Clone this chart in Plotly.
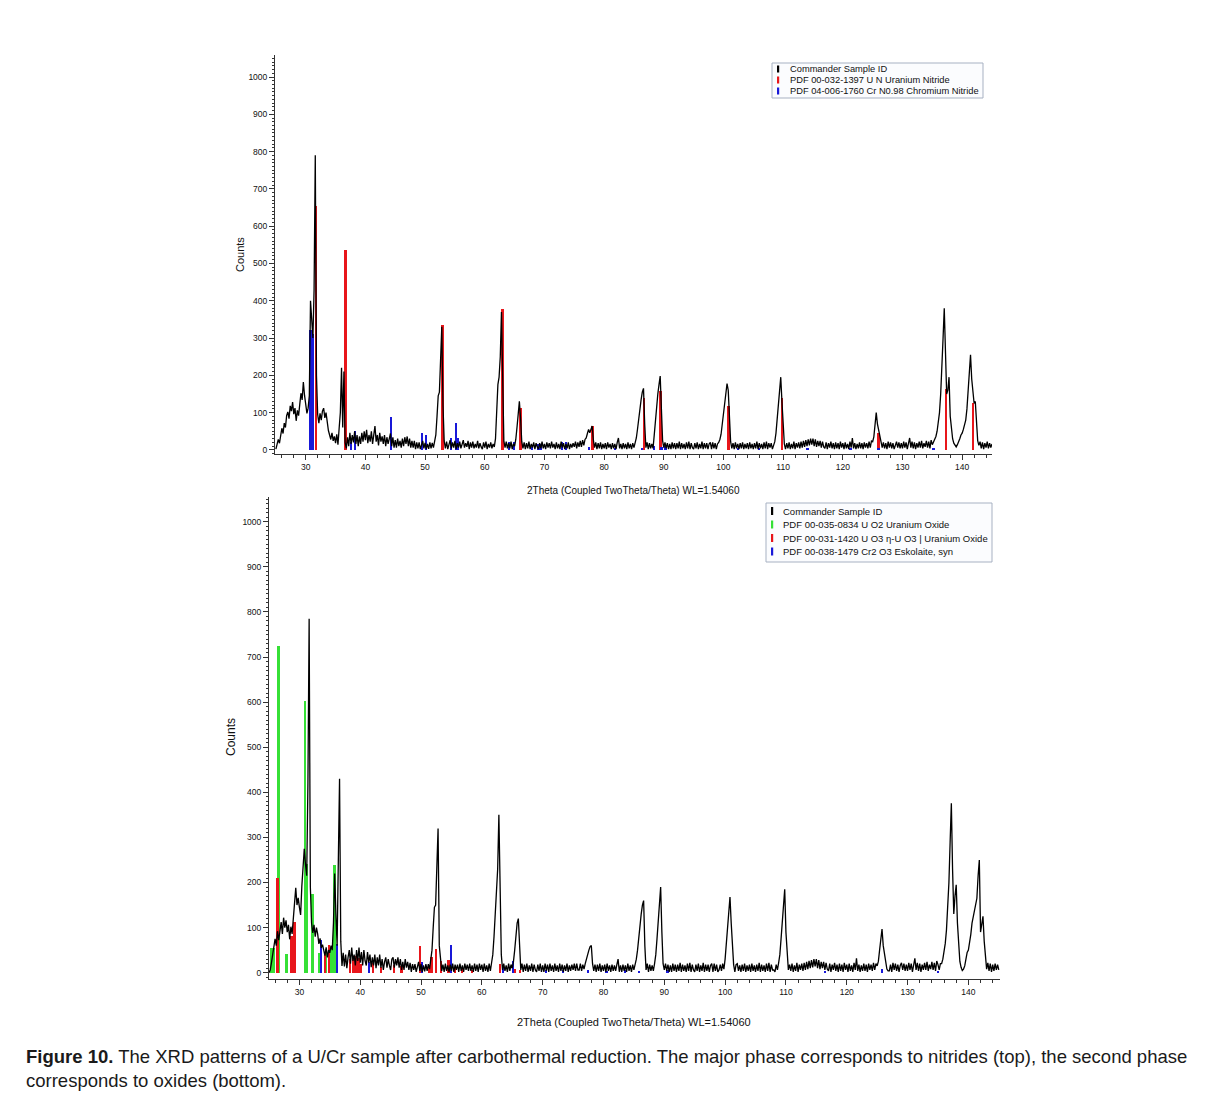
import numpy as np
import plotly.graph_objects as go

# page: the browser body adds an 8px margin, the figure is sized to fit inside it
PAGE_MARGIN = 8
FW, FH = 1227 - 2 * PAGE_MARGIN, 1102 - 2 * PAGE_MARGIN

# ---------------- data ----------------
SCAN_START = 25.0   # 2theta of first scan point (deg)
SCAN_STEP = 0.2     # scan step (deg)

# Top pattern (nitrides), counts per scan point, one row per degree (x.0 .2 .4 .6 .8)
top_counts = [
    2, 12, 28, 18, 42,        # 25
    58, 44, 72, 60, 92,       # 26
    102, 84, 118, 104, 128,   # 27
    96, 112, 78, 106, 92,     # 28
    122, 152, 134, 182, 146,  # 29
    118, 98, 112, 145, 400,   # 30
    330, 300, 430, 790, 200,  # 31
    95, 72, 98, 80, 104,      # 32
    112, 86, 100, 70, 52,     # 33
    40, 28, 46, 24, 36,       # 34
    18, 42, 14, 58, 100,      # 35
    220, 60, 210, 20, 4,      # 36
    34, 10, 46, 16, 40,       # 37
    20, 50, 16, 40, 10,       # 38
    36, 16, 46, 22, 50,       # 39
    26, 54, 18, 40, 22,       # 40
    50, 16, 44, 64, 22,       # 41
    40, 12, 46, 22, 36,       # 42
    16, 40, 10, 34, 16,       # 43
    30, 44, 10, 34, 6,        # 44
    26, 6, 30, 10, 24,        # 45
    6, 30, 10, 34, 16,        # 46
    36, 10, 30, 6, 24,        # 47
    6, 24, 2, 20, 4,          # 48
    20, 2, 16, 24, 4,         # 49
    19, 2, 16, 3, 20,         # 50
    4, 19, 6, 24, 40,         # 51
    90, 145, 155, 250, 330,   # 52
    120, 24, 4, 22, 2,        # 53
    16, 26, 4, 20, 6,         # 54
    24, 2, 18, 6, 22,         # 55
    4, 16, 26, 6, 18,         # 56
    8, 24, 2, 20, 6,          # 57
    22, 4, 16, 6, 24,         # 58
    4, 18, 8, 2, 20,          # 59
    6, 22, 2, 16, 6,          # 60
    20, 4, 16, 8, 30,         # 61
    90, 175, 195, 250, 370,   # 62
    130, 24, 6, 22, 4,        # 63
    18, 4, 22, 2, 16,         # 64
    10, 28, 60, 95, 130,      # 65
    85, 22, 4, 20, 2,         # 66
    18, 4, 22, 2, 16,         # 67
    6, 20, 2, 18, 8,          # 68
    2, 18, 4, 22, 4,          # 69
    16, 2, 20, 6, 18,         # 70
    4, 22, 6, 16, 2,          # 71
    20, 4, 16, 2, 22,         # 72
    6, 18, 2, 16, 4,          # 73
    20, 2, 16, 6, 18,         # 74
    8, 22, 4, 20, 8,          # 75
    24, 8, 26, 12, 28,        # 76
    32, 44, 55, 46, 56,       # 77
    64, 26, 6, 20, 2,         # 78
    18, 4, 20, 2, 16,         # 79
    4, 18, 2, 20, 6,          # 80
    16, 2, 18, 4, 16,         # 81
    2, 20, 32, 4, 16,         # 82
    2, 18, 4, 16, 2,          # 83
    20, 4, 16, 2, 18,         # 84
    6, 20, 32, 56, 86,        # 85
    115, 135, 155, 165, 70,   # 86
    6, 20, 2, 18, 4,          # 87
    16, 4, 40, 80, 120,       # 88
    150, 175, 198, 110, 25,   # 89
    6, 20, 4, 18, 2,          # 90
    16, 2, 20, 4, 18,         # 91
    2, 18, 4, 22, 2,          # 92
    18, 4, 16, 2, 20,         # 93
    4, 22, 2, 18, 6,          # 94
    2, 18, 4, 20, 2,          # 95
    16, 4, 22, 2, 18,         # 96
    4, 18, 2, 16, 20,         # 97
    2, 20, 4, 18, 2,          # 98
    16, 20, 28, 42, 70,       # 99
    100, 130, 150, 178, 160,  # 100
    80, 22, 4, 18, 2,         # 101
    20, 4, 16, 2, 18,         # 102
    4, 20, 2, 16, 4,          # 103
    18, 2, 20, 4, 16,         # 104
    2, 18, 4, 22, 2,          # 105
    18, 4, 16, 2, 20,         # 106
    4, 22, 2, 18, 6,          # 107
    18, 2, 16, 22, 45,        # 108
    80, 120, 160, 195, 130,   # 109
    50, 16, 2, 18, 4,         # 110
    20, 2, 16, 4, 22,         # 111
    2, 18, 6, 20, 4,          # 112
    22, 6, 24, 8, 26,         # 113
    10, 28, 12, 30, 14,       # 114
    30, 10, 28, 8, 24,        # 115
    10, 24, 6, 22, 8,         # 116
    4, 20, 2, 18, 6,          # 117
    22, 4, 18, 2, 20,         # 118
    4, 18, 2, 22, 6,          # 119
    18, 2, 20, 4, 16,         # 120
    2, 22, 6, 32, 4,          # 121
    18, 2, 16, 4, 20,         # 122
    4, 18, 2, 20, 6,          # 123
    18, 4, 22, 6, 24,         # 124
    22, 35, 62, 100, 70,      # 125
    50, 40, 22, 6, 20,        # 126
    4, 18, 2, 22, 6,          # 127
    20, 4, 18, 2, 16,         # 128
    22, 6, 20, 4, 18,         # 129
    4, 22, 6, 20, 2,          # 130
    18, 32, 6, 22, 4,         # 131
    20, 2, 18, 6, 22,         # 132
    6, 24, 4, 18, 8,          # 133
    24, 6, 22, 4, 26,         # 134
    14, 22, 26, 36, 50,       # 135
    70, 100, 150, 210, 300,   # 136
    380, 280, 150, 160, 195,  # 137
    90, 50, 30, 18, 12,       # 138
    8, 14, 20, 30, 40,        # 139
    45, 55, 65, 80, 110,      # 140
    160, 200, 255, 190, 150,  # 141
    125, 130, 70, 25, 12,     # 142
    22, 4, 20, 2, 18,         # 143
    6, 22, 4, 18, 6,          # 144
    16,                       # 145
]

# Bottom pattern (oxides)
bottom_counts = [
    0, 6, 22, 40, 58,         # 25
    75, 60, 92, 72, 96,       # 26
    112, 86, 122, 100, 116,   # 27
    90, 106, 74, 102, 86,     # 28
    122, 170, 188, 150, 166,  # 29
    145, 128, 192, 230, 275,  # 30
    240, 215, 420, 785, 190,  # 31
    110, 88, 106, 80, 100,    # 32
    86, 64, 76, 55, 62,       # 33
    50, 38, 56, 34, 50,       # 34
    44, 60, 50, 110, 220,     # 35
    130, 60, 250, 430, 70,    # 36
    15, 44, 14, 40, 10,       # 37
    34, 50, 20, 56, 26,       # 38
    40, 16, 50, 26, 56,       # 39
    22, 46, 16, 50, 26,       # 40
    16, 46, 22, 40, 12,       # 41
    34, 16, 40, 10, 34,       # 42
    16, 40, 11, 30, 6,        # 43
    24, 34, 11, 30, 16,       # 44
    6, 30, 34, 11, 30,        # 45
    16, 34, 11, 30, 6,        # 46
    24, 6, 30, 11, 24,        # 47
    6, 22, 2, 19, 6,          # 48
    19, 2, 16, 24, 4,         # 49
    19, 2, 16, 3, 19,         # 50
    4, 19, 8, 25, 50,         # 51
    100, 145, 150, 230, 320,  # 52
    60, 20, 4, 18, 2,         # 53
    20, 4, 16, 2, 18,         # 54
    4, 20, 2, 18, 6,          # 55
    18, 2, 20, 4, 16,         # 56
    2, 20, 6, 18, 4,          # 57
    20, 4, 16, 2, 20,         # 58
    4, 18, 2, 20, 6,          # 59
    18, 2, 20, 4, 16,         # 60
    2, 20, 4, 22, 40,         # 61
    80, 140, 170, 230, 350,   # 62
    200, 40, 6, 20, 4,        # 63
    16, 2, 20, 4, 18,         # 64
    10, 25, 50, 80, 110,      # 65
    120, 50, 6, 20, 2,        # 66
    18, 4, 20, 2, 16,         # 67
    4, 20, 2, 18, 6,          # 68
    2, 18, 4, 20, 2,          # 69
    16, 2, 20, 4, 18,         # 70
    2, 20, 4, 16, 2,          # 71
    20, 4, 16, 2, 20,         # 72
    4, 18, 2, 16, 4,          # 73
    20, 2, 16, 4, 18,         # 74
    6, 20, 4, 20, 6,          # 75
    6, 20, 4, 18, 8,          # 76
    20, 30, 45, 50, 58,       # 77
    60, 20, 4, 18, 2,         # 78
    18, 4, 20, 2, 16,         # 79
    4, 18, 2, 20, 4,          # 80
    16, 2, 18, 4, 16,         # 81
    4, 18, 30, 2, 16,         # 82
    2, 18, 4, 16, 2,          # 83
    20, 4, 16, 2, 18,         # 84
    6, 18, 30, 50, 80,        # 85
    105, 130, 150, 160, 60,   # 86
    6, 20, 2, 18, 4,          # 87
    16, 4, 20, 40, 75,        # 88
    115, 150, 190, 90, 20,    # 89
    6, 20, 4, 18, 2,          # 90
    16, 2, 20, 4, 18,         # 91
    2, 18, 4, 22, 2,          # 92
    18, 4, 16, 2, 20,         # 93
    4, 22, 2, 18, 6,          # 94
    2, 18, 4, 20, 2,          # 95
    16, 4, 22, 2, 18,         # 96
    4, 18, 2, 16, 20,         # 97
    2, 20, 4, 18, 2,          # 98
    6, 18, 4, 20, 8,          # 99
    30, 60, 95, 130, 168,     # 100
    110, 50, 18, 2, 18,       # 101
    20, 4, 16, 2, 18,         # 102
    4, 20, 2, 16, 4,          # 103
    18, 2, 20, 4, 16,         # 104
    2, 18, 4, 22, 2,          # 105
    18, 4, 16, 2, 20,         # 106
    4, 22, 2, 18, 6,          # 107
    6, 2, 18, 6, 22,          # 108
    40, 75, 115, 160, 185,    # 109
    90, 30, 6, 18, 4,         # 110
    20, 2, 16, 4, 22,         # 111
    2, 18, 6, 20, 4,          # 112
    22, 6, 24, 8, 26,         # 113
    10, 28, 12, 30, 14,       # 114
    30, 10, 28, 8, 24,        # 115
    10, 24, 6, 22, 8,         # 116
    4, 20, 2, 18, 6,          # 117
    22, 4, 18, 2, 20,         # 118
    4, 18, 2, 22, 6,          # 119
    18, 2, 20, 4, 16,         # 120
    2, 22, 6, 32, 4,          # 121
    18, 2, 16, 4, 20,         # 122
    4, 18, 2, 20, 6,          # 123
    18, 4, 22, 6, 20,         # 124
    15, 25, 50, 75, 97,       # 125
    60, 40, 25, 8, 4,         # 126
    4, 18, 2, 22, 6,          # 127
    20, 4, 18, 2, 16,         # 128
    22, 6, 20, 4, 18,         # 129
    4, 22, 6, 20, 2,          # 130
    18, 32, 6, 22, 4,         # 131
    20, 2, 18, 6, 22,         # 132
    6, 24, 4, 18, 8,          # 133
    24, 6, 22, 4, 26,         # 134
    18, 6, 20, 20, 30,        # 135
    45, 65, 95, 140, 200,     # 136
    290, 376, 230, 130, 170,  # 137
    195, 110, 50, 25, 12,     # 138
    5, 8, 15, 30, 45,         # 139
    50, 65, 85, 110, 125,     # 140
    135, 150, 165, 215, 250,  # 141
    90, 110, 125, 70, 30,     # 142
    8, 22, 4, 20, 2,          # 143
    18, 4, 20, 6, 18,         # 144
    6,                        # 145
]

# Reference patterns (stick positions in 2theta, relative heights in counts)
un_pos = [31.7, 36.7, 52.9, 62.95, 66.0, 78.0, 86.7, 89.5, 100.9, 109.8, 126.0, 137.3, 141.8]
un_int = [655, 537, 336, 377, 112, 63, 138, 157, 117, 138, 45, 163, 125]

crn_pos = [30.8, 31.15, 37.6, 38.3, 44.3, 49.5, 50.2, 54.3, 55.2, 55.45, 64.0, 64.9, 67.9, 69.0,
           69.4, 72.9, 73.6, 77.5, 81.8, 86.4, 88.4, 89.6, 90.3, 102.4, 106.0, 114.1, 121.3, 126.0, 135.2]
crn_int = [322, 312, 20, 52, 88, 45, 40, 32, 73, 32, 20, 20, 8, 15,
           15, 20, 20, 8, 5, 5, 10, 8, 10, 5, 4, 4, 4, 4, 4]

uo2_pos = [25.4, 25.8, 26.55, 27.9, 30.9, 31.3, 32.15, 33.2, 34.4, 35.3, 35.75]
uo2_int = [55, 55, 725, 42, 603, 240, 175, 44, 52, 52, 238]

uo3_pos = [26.4, 28.7, 29.2, 34.2, 34.9, 38.3, 38.9, 39.3, 39.7, 40.1, 42.1, 43.4, 45.5, 46.8,
           49.8, 51.4, 51.7, 52.45, 53.3, 54.5, 55.6, 56.7, 58.4, 63.0, 65.5, 66.3]
uo3_int = [211, 82, 112, 45, 62, 30, 35, 38, 32, 20, 22, 12, 18, 15,
           60, 15, 35, 52, 25, 28, 10, 8, 6, 20, 8, 6]

cr2o3_pos = [33.6, 36.2, 41.4, 50.2, 54.9, 63.5, 65.1, 70.5, 73.3, 77.5, 80.5, 83.5, 85.8, 90.5, 116.4, 125.8, 135.0]
cr2o3_int = [72, 64, 24, 24, 62, 12, 25, 5, 5, 6, 4, 5, 4, 6, 3, 8, 4]

top_legend_labels = ["Commander Sample ID",
                     "PDF 00-032-1397 U N Uranium Nitride",
                     "PDF 04-006-1760 Cr N0.98 Chromium Nitride"]
bottom_legend_labels = ["Commander Sample ID",
                        "PDF 00-035-0834 U O2 Uranium Oxide",
                        "PDF 00-031-1420 U O3 \u03b7-U O3 | Uranium Oxide",
                        "PDF 00-038-1479 Cr2 O3 Eskolaite, syn"]
x_title = "2Theta (Coupled TwoTheta/Theta) WL=1.54060"
y_title = "Counts"
caption_bold = "Figure 10."
caption_line1 = (" The XRD patterns of a U/Cr sample after carbothermal reduction. "
                 "The major phase corresponds to nitrides (top), the second phase")
caption_line2 = "corresponds to oxides (bottom)."

# ---------------- styling ----------------
BLACK = "#000000"
RED = "#e8161b"
BLUE = "#1818d8"
GREEN = "#36e036"
FONT = "Liberation Sans, Arial, sans-serif"
AX = "#333333"


def pxx(px):
    """window pixel column -> paper x"""
    return (px - PAGE_MARGIN) / FW


def pxy(py):
    """window pixel row -> paper y"""
    return 1 - (py - PAGE_MARGIN) / FH


theta_top = SCAN_START + SCAN_STEP * np.arange(len(top_counts))
theta_bot = SCAN_START + SCAN_STEP * np.arange(len(bottom_counts))

fig = go.Figure()

fig.add_trace(go.Scatter(x=theta_top, y=top_counts, mode="lines",
                         line=dict(color=BLACK, width=1.3), xaxis="x", yaxis="y"))
fig.add_trace(go.Bar(x=un_pos, y=un_int, width=0.45, marker=dict(color=RED, line_width=0),
                     xaxis="x", yaxis="y"))
fig.add_trace(go.Bar(x=crn_pos, y=crn_int, width=0.38, marker=dict(color=BLUE, line_width=0),
                     xaxis="x", yaxis="y"))

fig.add_trace(go.Scatter(x=theta_bot, y=bottom_counts, mode="lines",
                         line=dict(color=BLACK, width=1.3), xaxis="x2", yaxis="y2"))
fig.add_trace(go.Bar(x=uo2_pos, y=uo2_int, width=0.38, marker=dict(color=GREEN, line_width=0),
                     xaxis="x2", yaxis="y2"))
fig.add_trace(go.Bar(x=uo3_pos, y=uo3_int, width=0.38, marker=dict(color=RED, line_width=0),
                     xaxis="x2", yaxis="y2"))
fig.add_trace(go.Bar(x=cr2o3_pos, y=cr2o3_int, width=0.38, marker=dict(color=BLUE, line_width=0),
                     xaxis="x2", yaxis="y2"))


def xaxis_style(domain, rng, anchor):
    return dict(domain=domain, range=rng, anchor=anchor, showline=True, linecolor=AX, linewidth=1,
                ticks="outside", ticklen=5, tickwidth=1, tickcolor=AX, dtick=10, tick0=0,
                showgrid=False, zeroline=False,
                tickfont=dict(family=FONT, size=8.5, color="#111111"),
                minor=dict(dtick=2, tick0=0, ticks="outside", ticklen=3, tickcolor=AX, showgrid=False))


def yaxis_style(domain, rng, anchor):
    return dict(domain=domain, range=rng, anchor=anchor, showline=True, linecolor=AX, linewidth=1,
                ticks="outside", ticklen=5, tickwidth=1, tickcolor=AX, dtick=100, tick0=0,
                showgrid=False, zeroline=False,
                tickfont=dict(family=FONT, size=8.5, color="#111111"),
                minor=dict(dtick=10, tick0=0, ticks="outside", ticklen=2.5, tickcolor=AX, showgrid=False))


shapes = []
annotations = []


def add_legend(box, rows_y, marker_x, text_x, labels, colors, fsize, mh):
    x0, y0, x1, y1 = box
    shapes.append(dict(type="rect", xref="paper", yref="paper",
                       x0=pxx(x0), x1=pxx(x1), y0=pxy(y1), y1=pxy(y0),
                       line=dict(color="#a7b1c2", width=1), fillcolor="#fbfcfe", layer="above"))
    for ry, lab, col in zip(rows_y, labels, colors):
        shapes.append(dict(type="rect", xref="paper", yref="paper",
                           x0=pxx(marker_x - 1), x1=pxx(marker_x + 1.2),
                           y0=pxy(ry + mh / 2), y1=pxy(ry - mh / 2),
                           line=dict(width=0), fillcolor=col, layer="above"))
        annotations.append(dict(xref="paper", yref="paper", x=pxx(text_x), y=pxy(ry),
                                xanchor="left", yanchor="middle", showarrow=False, text=lab,
                                font=dict(family=FONT, size=fsize, color="#111111")))


add_legend((772, 63, 983, 98), [69, 80, 91], 778, 788,
           top_legend_labels, [BLACK, RED, BLUE], 9.3, 7)
add_legend((766, 503, 992, 562), [511, 524.5, 538, 551.5], 772, 781,
           bottom_legend_labels, [BLACK, GREEN, RED, BLUE], 9.5, 8)

# axis titles
annotations.append(dict(xref="paper", yref="paper", x=pxx(633), y=pxy(490), showarrow=False,
                        xanchor="center", yanchor="middle", text=x_title,
                        font=dict(family=FONT, size=10, color="#111111")))
annotations.append(dict(xref="paper", yref="paper", x=pxx(634), y=pxy(1022), showarrow=False,
                        xanchor="center", yanchor="middle", text=x_title,
                        font=dict(family=FONT, size=11, color="#111111")))
annotations.append(dict(xref="paper", yref="paper", x=pxx(240), y=pxy(255), showarrow=False,
                        xanchor="center", yanchor="middle", text=y_title, textangle=-90,
                        font=dict(family=FONT, size=11, color="#111111")))
annotations.append(dict(xref="paper", yref="paper", x=pxx(231), y=pxy(737), showarrow=False,
                        xanchor="center", yanchor="middle", text=y_title, textangle=-90,
                        font=dict(family=FONT, size=12, color="#111111")))

# caption
CAP_FONT = "Liberation Sans, Arial, sans-serif"
annotations.append(dict(xref="paper", yref="paper", x=pxx(24), y=pxy(1056), showarrow=False,
                        xanchor="left", yanchor="middle",
                        text="<b>" + caption_bold + "</b>" + caption_line1,
                        font=dict(family=CAP_FONT, size=18.5, color="#1a1a1a")))
annotations.append(dict(xref="paper", yref="paper", x=pxx(24), y=pxy(1080), showarrow=False,
                        xanchor="left", yanchor="middle", text=caption_line2,
                        font=dict(family=CAP_FONT, size=18.5, color="#1a1a1a")))

fig.update_layout(
    width=FW, height=FH, margin=dict(l=0, r=0, t=0, b=0),
    paper_bgcolor="white", plot_bgcolor="white", showlegend=False, barmode="overlay", bargap=0,
    xaxis=xaxis_style([pxx(275), pxx(992)], [24.85, 145.0], "y"),
    yaxis=yaxis_style([pxy(454), pxy(55)], [-11, 1059], "x"),
    xaxis2=xaxis_style([pxx(269), pxx(1000)], [25.0, 145.2], "y2"),
    yaxis2=yaxis_style([pxy(979), pxy(497)], [-14, 1055], "x2"),
    shapes=shapes, annotations=annotations,
)

fig.write_html("out.html")
